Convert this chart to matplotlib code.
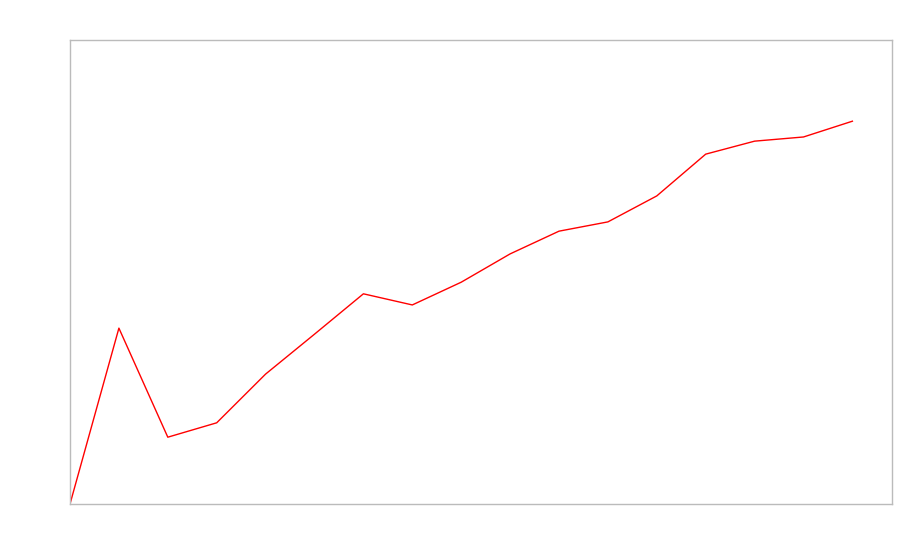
import matplotlib
matplotlib.use("Agg")
import matplotlib.pyplot as plt

# values (0-100 scale)
steps = list(range(17))
values = [0, 37.9, 14.4, 17.5, 28.0, 36.6, 45.3, 42.9, 47.8, 53.9,
          58.8, 60.8, 66.4, 75.4, 78.2, 79.1, 82.5]

fig = plt.figure(figsize=(9, 5.6), dpi=100)
ax = fig.add_axes([70 / 900, 56 / 560, 822 / 900, 464 / 560])

ax.plot(steps, values, color="red", linewidth=1)

ax.set_xlim(0, 822 / 48.9)
ax.set_ylim(0, 100)
ax.set_xticks([])
ax.set_yticks([])
for spine in ax.spines.values():
    spine.set_color("#bbbbbb")
    spine.set_linewidth(1)

fig.savefig("out.png", dpi=100)
